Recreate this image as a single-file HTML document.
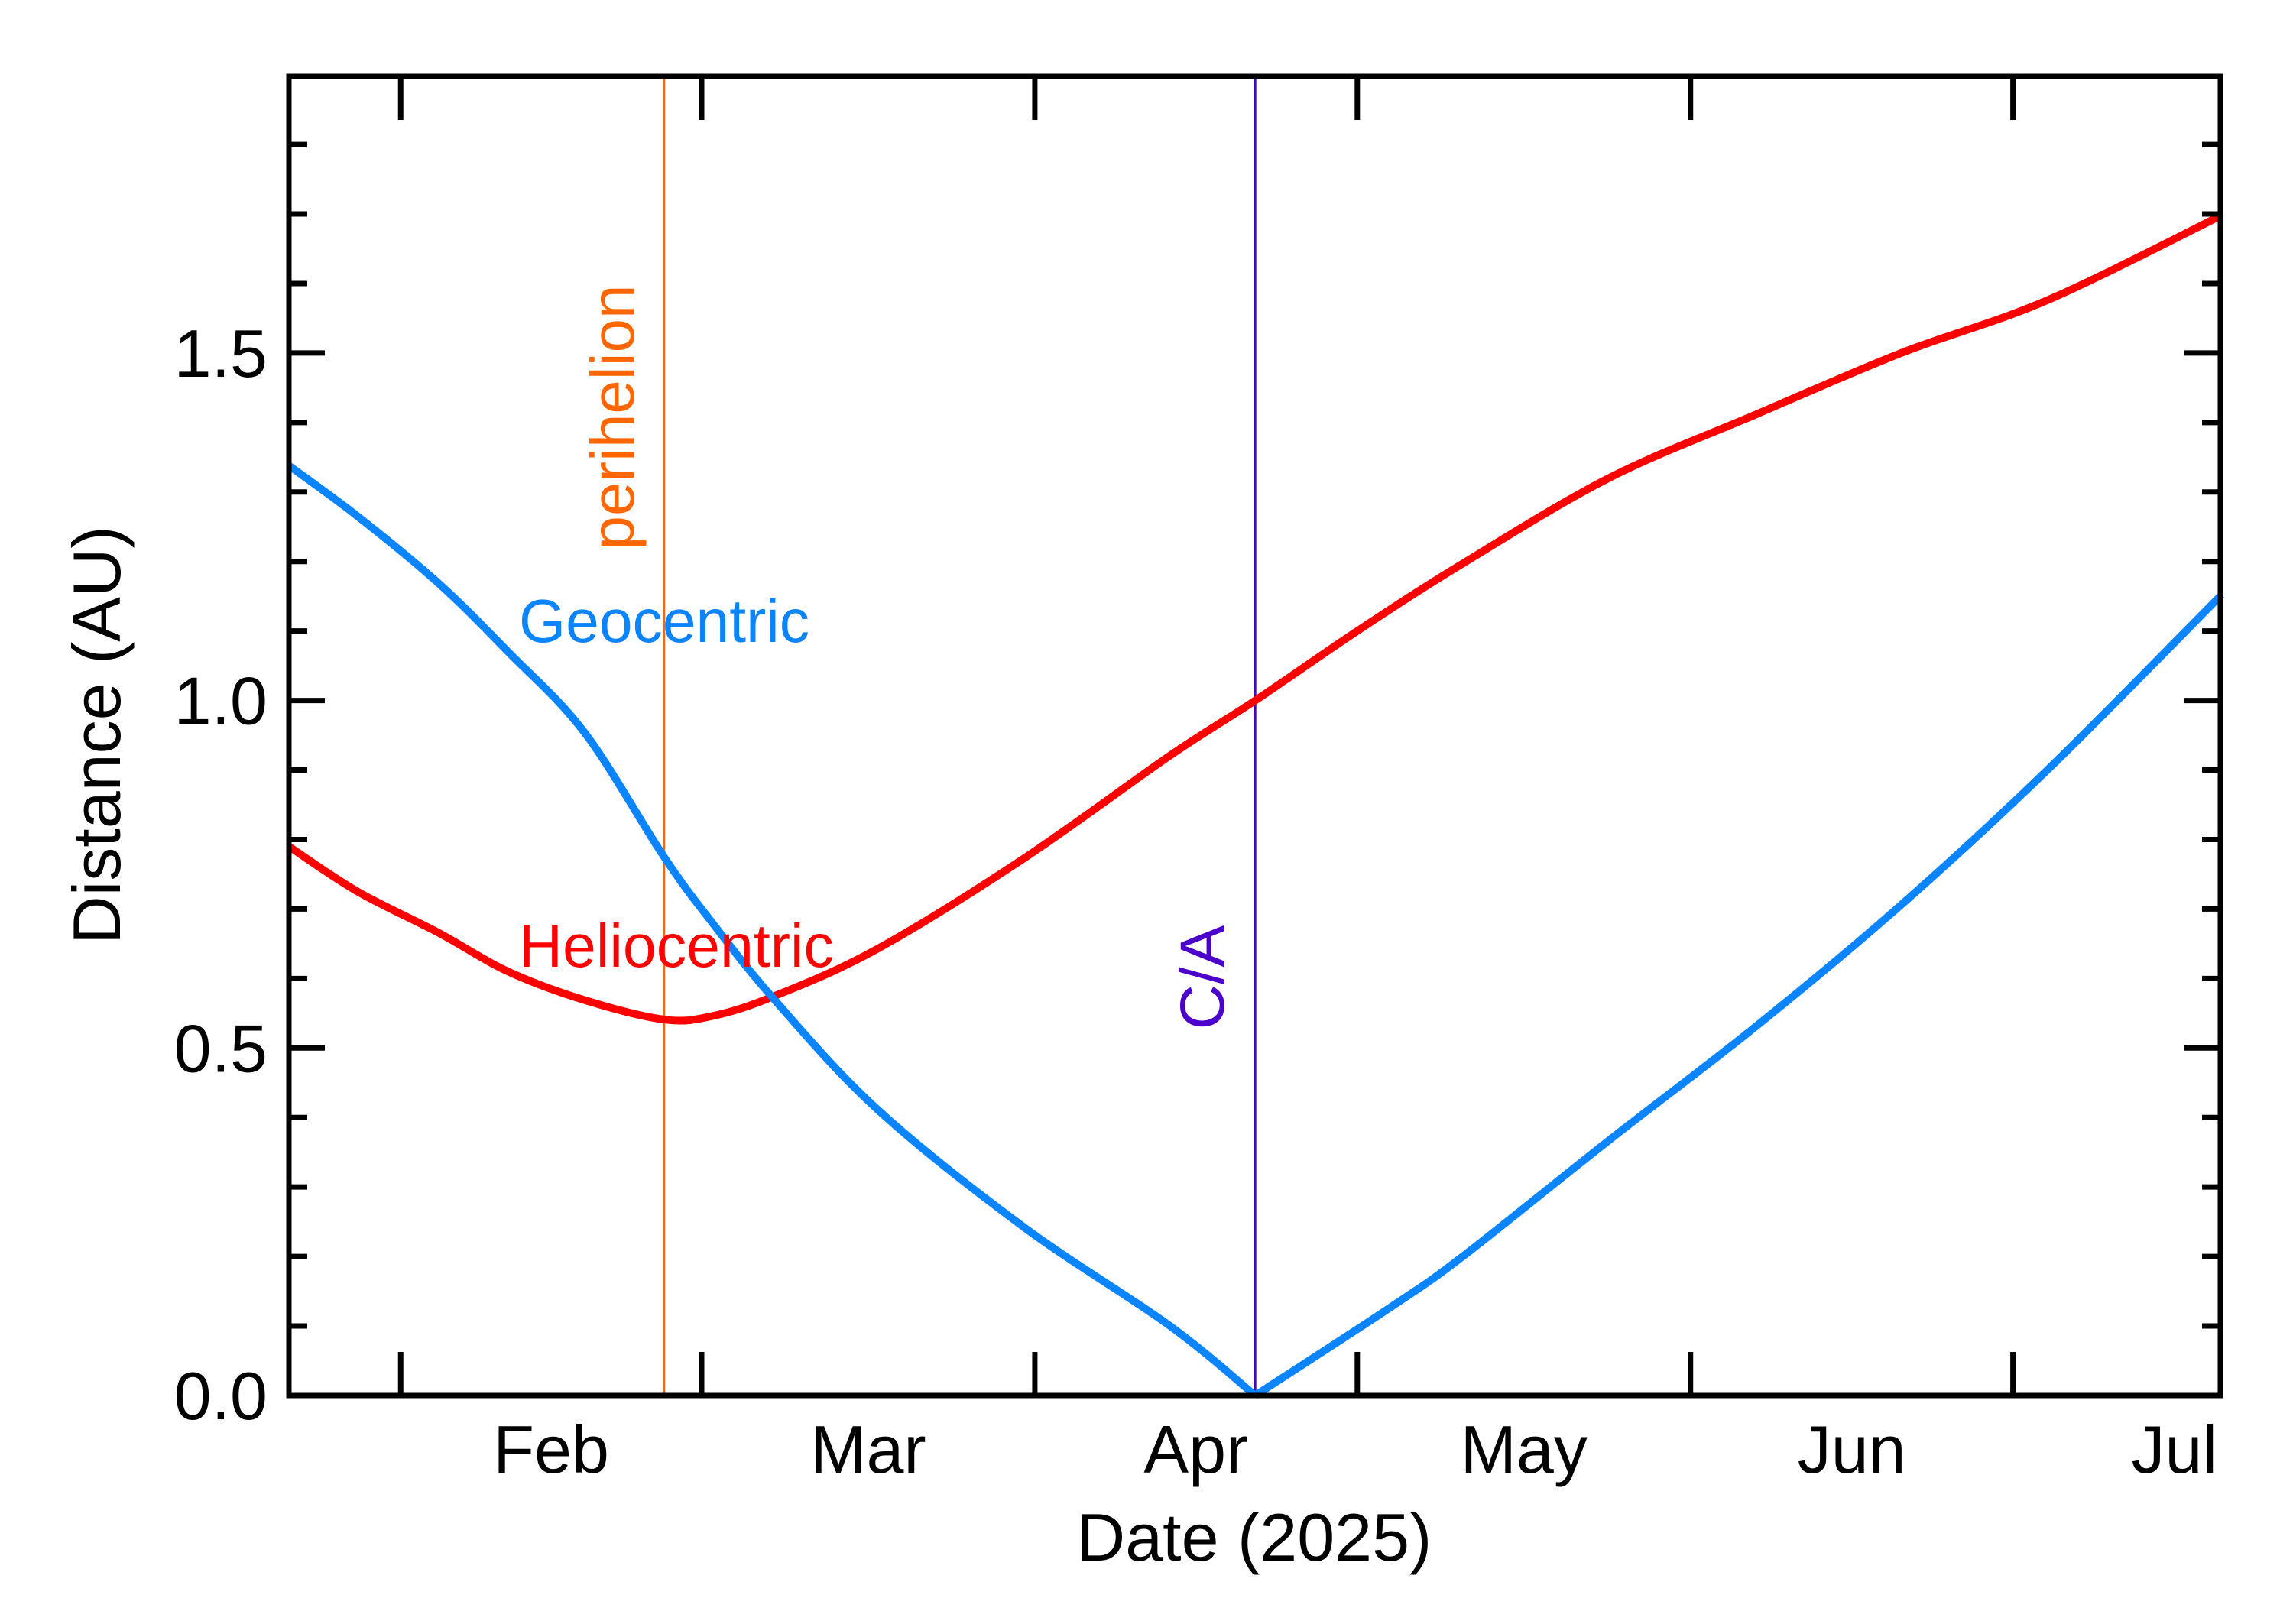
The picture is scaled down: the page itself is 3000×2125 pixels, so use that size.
<!DOCTYPE html>
<html><head><meta charset="utf-8"><style>
html,body{margin:0;padding:0;background:#fff;}
svg{display:block;font-family:"Liberation Sans",sans-serif;}
</style></head><body>
<svg id="chart" width="3000" height="2125" viewBox="0 0 3000 2125" xmlns="http://www.w3.org/2000/svg">
<rect x="0" y="0" width="3000" height="2125" fill="#fff"/>
<g id="marks"></g>
<g id="axes"></g>
</svg>
<script>
// Data (day-of-year 2025, distance in AU)
const helioDays = [20.6, 27, 34.5, 41, 48.1, 55.5, 60, 65.8, 75.4, 89.0, 102.5, 110.5, 120, 129.8, 143.4, 157, 170.6, 184.2, 200.4];
const helioVals = [0.79, 0.725, 0.666, 0.61, 0.569, 0.541, 0.546, 0.575, 0.643, 0.773, 0.92, 1.0, 1.10, 1.197, 1.32, 1.411, 1.50, 1.576, 1.698];
const geoDays1 = [20.6, 27, 34.5, 41, 48.1, 55.5, 60, 65.8, 75.4, 89.0, 102.5, 110.5];
const geoVals1 = [1.338, 1.265, 1.169, 1.07, 0.954, 0.775, 0.68, 0.569, 0.411, 0.242, 0.101, 0.0];
const geoDays2 = [110.5, 123, 129.8, 143.4, 157, 170.6, 184.2, 200.4];
const geoVals2 = [0.0, 0.126, 0.20, 0.367, 0.53, 0.706, 0.90, 1.152];
const monthNames = ["Feb", "Mar", "Apr", "May", "Jun", "Jul"];
const monthStarts = [31, 59, 90, 120, 151, 181];
const monthEnds = [59, 90, 120, 151, 181, 212];
const yMajorTicks = [0.0, 0.5, 1.0, 1.5];
const yMajorLabels = ["0.0", "0.5", "1.0", "1.5"];
const perihelionDay = 55.5;
const closeApproachDay = 110.5;

const L = 378, R = 2905, T = 100, B = 1826;
const xMin = 20.6, xMax = 200.3, yMin = 0, yMax = 1.898;
const xs = d => L + (d - xMin) / (xMax - xMin) * (R - L);
const ys = v => B - (v - yMin) / (yMax - yMin) * (B - T);
const NS = "http://www.w3.org/2000/svg";
const marks = document.getElementById('marks');
const axes = document.getElementById('axes');
function mk(tag, attrs, parent) {
  const e = document.createElementNS(NS, tag);
  for (const k in attrs) e.setAttribute(k, attrs[k]);
  parent.appendChild(e); return e;
}
function smooth(days, vals) {
  const p = days.map((d, i) => [xs(d), ys(vals[i])]);
  let s = "M" + p[0][0] + "," + p[0][1];
  for (let i = 0; i < p.length - 1; i++) {
    const p0 = p[i - 1] || p[i], p1 = p[i], p2 = p[i + 1], p3 = p[i + 2] || p2;
    const c1 = [p1[0] + (p2[0] - p0[0]) / 6, p1[1] + (p2[1] - p0[1]) / 6];
    const c2 = [p2[0] - (p3[0] - p1[0]) / 6, p2[1] - (p3[1] - p1[1]) / 6];
    s += " C" + c1[0] + "," + c1[1] + " " + c2[0] + "," + c2[1] + " " + p2[0] + "," + p2[1];
  }
  return s;
}
// vertical event lines
const pl = mk('line', {x1: xs(perihelionDay), x2: xs(perihelionDay), y1: T, y2: B, stroke: '#ff6600', 'stroke-width': 3}, marks);


const cl = mk('line', {x1: xs(closeApproachDay), x2: xs(closeApproachDay), y1: T, y2: B, stroke: '#4b00cc', 'stroke-width': 3}, marks);


// curves
const hp = mk('path', {d: smooth(helioDays, helioVals), fill: 'none', stroke: '#ff0000', 'stroke-width': 10}, marks);


const gp = mk('path', {d: smooth(geoDays1, geoVals1) + " " + smooth(geoDays2, geoVals2), fill: 'none', stroke: '#0a84ff', 'stroke-width': 10}, marks);



// frame
const fr = mk('rect', {x: L, y: T, width: R - L, height: B - T, fill: 'none', stroke: '#000', 'stroke-width': 7}, axes);


// y ticks
for (let i = 0; i <= 18; i++) {
  const v = i / 10, y = ys(v), len = (i % 5 === 0) ? 47 : 24;
  const t1 = mk('line', {x1: L, x2: L + len, y1: y, y2: y, stroke: '#000', 'stroke-width': 7}, axes);
  
  
  const t2 = mk('line', {x1: R, x2: R - len, y1: y, y2: y, stroke: '#000', 'stroke-width': 7}, axes);
  
  
}
yMajorTicks.forEach((v, i) => {
  const t = mk('text', {x: 350, y: ys(v) + 31, 'font-size': 88, 'text-anchor': 'end', fill: '#000'}, axes);
  t.textContent = yMajorLabels[i];
  
  
});
// x ticks and labels
monthStarts.forEach((d, i) => {
  const x = xs(d);
  const a = mk('line', {x1: x, x2: x, y1: B, y2: B - 57, stroke: '#000', 'stroke-width': 7}, axes);
  
  
  const b = mk('line', {x1: x, x2: x, y1: T, y2: T + 57, stroke: '#000', 'stroke-width': 7}, axes);
  
  
  let cx = xs((d + monthEnds[i]) / 2), anchor = 'middle';
  if (cx > R - 60) { cx = R - 4; anchor = 'end'; }
  const t = mk('text', {x: cx, y: 1927, 'font-size': 88, 'text-anchor': anchor, fill: '#000'}, axes);
  t.textContent = monthNames[i];
  
  
});
// titles & annotations
const xt = mk('text', {x: 1641, y: 2042, 'font-size': 88, 'text-anchor': 'middle', fill: '#000'}, axes);
xt.textContent = 'Date (2025)';


const yt = mk('text', {x: 0, y: 0, 'font-size': 88, 'text-anchor': 'middle', fill: '#000', transform: 'translate(157,962) rotate(-90)'}, axes);
yt.textContent = 'Distance (AU)';


const ph = mk('text', {x: 0, y: 0, 'font-size': 80, 'text-anchor': 'middle', fill: '#ff6600', transform: 'translate(829,546) rotate(-90)'}, axes);
ph.textContent = 'perihelion';


const ca = mk('text', {x: 0, y: 0, 'font-size': 82, 'text-anchor': 'middle', fill: '#4b00cc', transform: 'translate(1601,1279) rotate(-90)'}, axes);
ca.textContent = 'C/A';


const gl = mk('text', {x: 679, y: 840, 'font-size': 80, fill: '#0a84ff', textLength: 380, lengthAdjust: 'spacingAndGlyphs'}, axes);
gl.textContent = 'Geocentric';


const hl = mk('text', {x: 679, y: 1265, 'font-size': 80, fill: '#ff0000', textLength: 412, lengthAdjust: 'spacingAndGlyphs'}, axes);
hl.textContent = 'Heliocentric';


</script>
</body></html>
